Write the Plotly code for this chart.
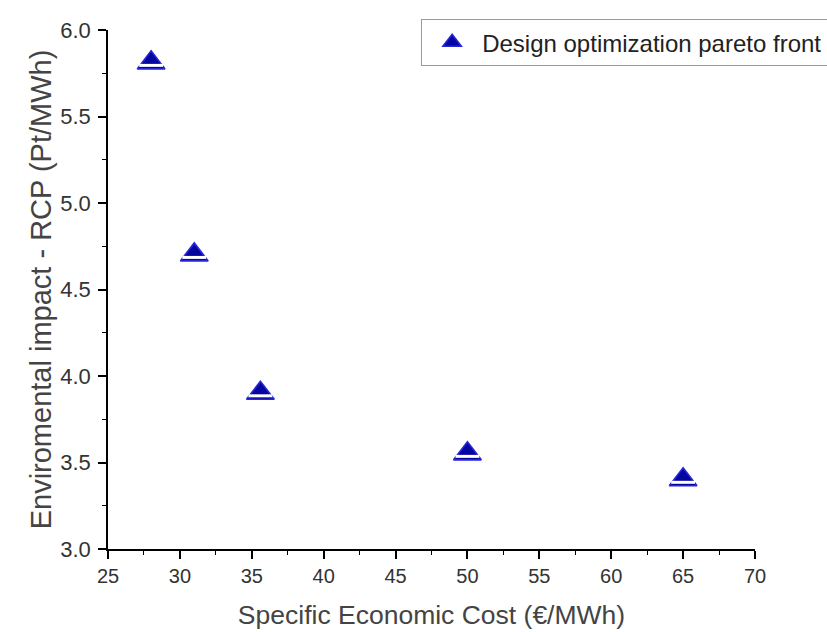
import plotly.graph_objects as go

cost = [28.0, 31.0, 35.6, 50.0, 65.0]
impact = [5.81, 4.70, 3.90, 3.55, 3.40]
series_name = "Design optimization pareto front"
x_title = "Specific Economic Cost (€/MWh)"
y_title = "Enviromental impact - RCP (Pt/MWh)"

Y_RANGE = [3, 6]
BAND_SHIFT = 0.0145  # data-unit shift so the white band sits in the lower part of each triangle

fig = go.Figure()
fig.add_trace(go.Scatter(
    x=cost, y=impact, mode="markers", name=series_name,
    marker=dict(symbol="triangle-up", size=24, color="#0505a0",
                line=dict(color="#2626d8", width=1.6)),
))
# white band inside each triangle (drawn on an overlaid, slightly shifted y axis)
fig.add_trace(go.Scatter(
    x=cost, y=impact, mode="markers", showlegend=False, yaxis="y2", hoverinfo="skip",
    marker=dict(symbol="line-ew", size=17, color="white",
                line=dict(color="white", width=3.0)),
))

axis_common = dict(
    showline=True, linecolor="black", linewidth=1.5, mirror=False,
    ticks="outside", ticklen=8, tickwidth=1.5, tickcolor="black",
    showgrid=False, zeroline=False,
)
fig.update_xaxes(range=[25, 70], dtick=5, tick0=25, title_text=x_title,
                 tickfont=dict(family="Liberation Sans, Arial", size=20, color="#333"),
                 title_font=dict(family="Liberation Sans, Arial", size=26.5, color="#444"),
                 minor=dict(ticks="outside", ticklen=4, tickwidth=1.2, tickcolor="black", dtick=2.5),
                 title_standoff=20, **axis_common)
fig.update_yaxes(range=Y_RANGE, dtick=0.5, tick0=3, tickformat=".1f", title_text=y_title,
                 tickfont=dict(family="Liberation Sans, Arial", size=22, color="#333"),
                 ticklabelstandoff=3,
                 title_font=dict(family="Liberation Sans, Arial", size=29, color="#444"),
                 minor=dict(ticks="outside", ticklen=4, tickwidth=1.2, tickcolor="black", dtick=0.25),
                 title_standoff=0, **axis_common)

fig.update_layout(
    width=827, height=632,
    margin=dict(l=108, r=72, t=30, b=83, autoexpand=False),
    paper_bgcolor="white", plot_bgcolor="white",
    showlegend=True,
    yaxis2=dict(overlaying="y", range=[Y_RANGE[0] + BAND_SHIFT, Y_RANGE[1] + BAND_SHIFT],
                visible=False, showgrid=False, zeroline=False),
    legend=dict(x=0.484, y=1.021, xanchor="left", yanchor="top", itemwidth=50,
                bordercolor="#999", borderwidth=1, bgcolor="white",
                font=dict(family="Liberation Sans, Arial", size=24, color="#222")),
)

fig.write_html("out.html")
